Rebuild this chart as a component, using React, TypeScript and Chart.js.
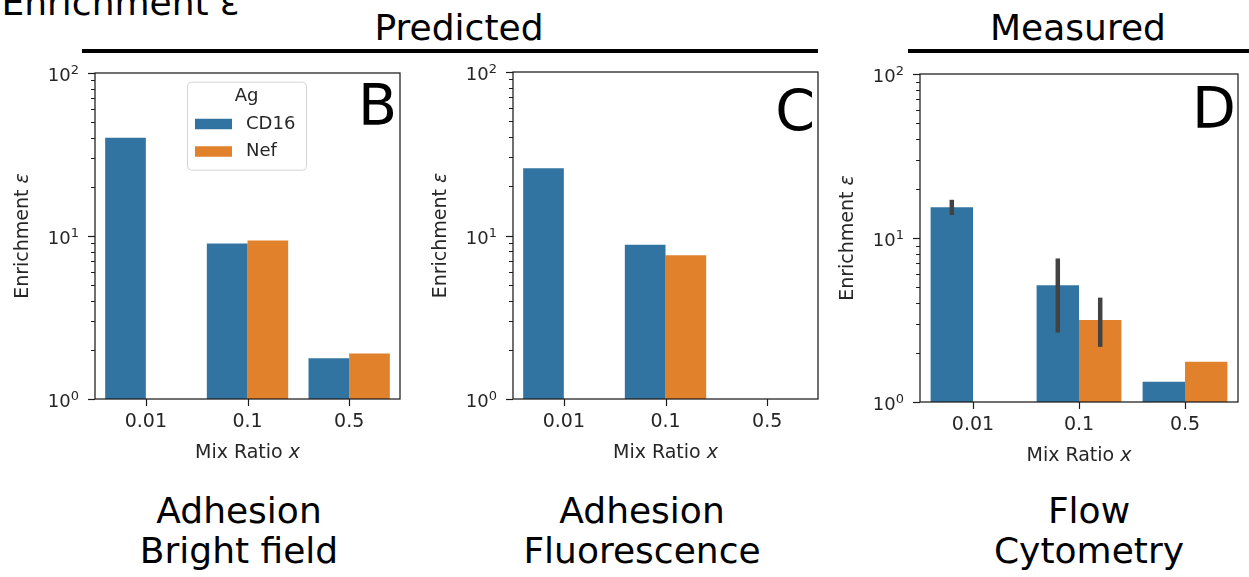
import React, { useEffect, useRef } from 'react';
import { Chart, registerables } from 'chart.js';

Chart.register(...registerables);

// ---------- data ----------
const categories = ['0.01', '0.1', '0.5'];
const seriesLabels = ['CD16', 'Nef'];
const seriesColors = ['#3274a1', '#e1812c'];

const yMajorTicks = [1, 10, 100];
const yMajorBase = '10';
const yMajorExponents = ['0', '1', '2'];
const yMinorTicks = [2, 3, 4, 5, 6, 7, 8, 9, 20, 30, 40, 50, 60, 70, 80, 90];

// B: Adhesion, bright field (predicted)
const brightCD16 = [40, 9.0, 1.78];
const brightNef = [null, 9.4, 1.9];
// C: Adhesion, fluorescence (predicted)
const fluorCD16 = [25.8, 8.77, null];
const fluorNef = [null, 7.58, null];
// D: Flow cytometry (measured)
const flowCD16 = [15.4, 5.15, 1.33];
const flowNef = [null, 3.16, 1.76];
const flowCD16Low = [13.8, 2.65, null];
const flowCD16High = [17.1, 7.5, null];
const flowNefLow = [null, 2.17, null];
const flowNefHigh = [null, 4.33, null];

const xTitleText = 'Mix Ratio ';
const xTitleVar = 'x';
const yTitleText = 'Enrichment ';
const yTitleVar = 'ε';
const legendTitle = 'Ag';

const FONT = "'DejaVu Sans', sans-serif";
const INK = '#1c1c1c';
const LABEL = '#262626';

type PanelProps = {
  left: number;
  top: number;
  width: number;
  height: number;
  yWidth: number;
  padTop: number;
  padRight: number;
  xHeight: number;
  values: (number | null)[][];
  errLow?: (number | null)[][];
  errHigh?: (number | null)[][];
  letter: string;
  letterX: number;
  letterY: number;
  legend?: boolean;
};

function Panel(p: PanelProps) {
  const ref = useRef<HTMLCanvasElement>(null);
  useEffect(() => {
    const canvas = ref.current!;
    const decor = {
      id: 'decor',
      afterDatasetsDraw(chart: any) {
        const { ctx, chartArea: ca, scales } = chart;
        const xs = scales.x;
        const ys = scales.y;
        ctx.save();
        // error bars
        if (p.errLow && p.errHigh) {
          ctx.strokeStyle = '#424242';
          ctx.lineWidth = 4.5;
          ctx.lineCap = 'butt';
          p.errLow.forEach((lows, i) => {
            const meta = chart.getDatasetMeta(i);
            lows.forEach((lo, j) => {
              const hi = p.errHigh![i][j];
              if (lo == null || hi == null) return;
              const bx = meta.data[j].x;
              ctx.beginPath();
              ctx.moveTo(bx, ys.getPixelForValue(lo));
              ctx.lineTo(bx, ys.getPixelForValue(hi));
              ctx.stroke();
            });
          });
        }
        // frame
        ctx.strokeStyle = INK;
        ctx.lineWidth = 1.25;
        ctx.strokeRect(ca.left, ca.top, ca.right - ca.left, ca.bottom - ca.top);
        // y ticks + labels
        ctx.lineWidth = 1.2;
        yMajorTicks.forEach((v, k) => {
          const ty = ys.getPixelForValue(v);
          const py = Math.round(ty) + 0.5;
          ctx.beginPath();
          ctx.moveTo(ca.left - 7, py);
          ctx.lineTo(ca.left, py);
          ctx.stroke();
          ctx.fillStyle = LABEL;
          ctx.textAlign = 'right';
          ctx.textBaseline = 'alphabetic';
          ctx.font = `13px ${FONT}`;
          const rx = ca.left - 16;
          const ew = ctx.measureText(yMajorExponents[k]).width;
          ctx.fillText(yMajorExponents[k], rx, ty + 1);
          ctx.font = `18px ${FONT}`;
          ctx.fillText(yMajorBase, rx - ew, ty + 8);
        });
        ctx.lineWidth = 1;
        yMinorTicks.forEach((v) => {
          const py = Math.round(ys.getPixelForValue(v)) + 0.5;
          ctx.beginPath();
          ctx.moveTo(ca.left - 4, py);
          ctx.lineTo(ca.left, py);
          ctx.stroke();
        });
        // x ticks
        ctx.lineWidth = 1.2;
        categories.forEach((_, i) => {
          const px = Math.round(xs.getPixelForValue(i)) + 0.5;
          ctx.beginPath();
          ctx.moveTo(px, ca.bottom);
          ctx.lineTo(px, ca.bottom + 7);
          ctx.stroke();
        });
        // axis titles
        ctx.fillStyle = LABEL;
        ctx.textBaseline = 'middle';
        ctx.textAlign = 'left';
        const normal = `19px ${FONT}`;
        const italic = `italic 19px ${FONT}`;
        const drawMixed = (a: string, b: string, cx: number, cy: number) => {
          ctx.font = normal;
          const w1 = ctx.measureText(a).width;
          ctx.font = italic;
          const w2 = ctx.measureText(b).width;
          const sx = cx - (w1 + w2) / 2;
          ctx.font = normal;
          ctx.fillText(a, sx, cy);
          ctx.font = italic;
          ctx.fillText(b, sx + w1, cy);
        };
        drawMixed(xTitleText, xTitleVar, (ca.left + ca.right) / 2, ca.bottom + 54.5);
        ctx.save();
        ctx.translate(ca.left - 72, (ca.top + ca.bottom) / 2);
        ctx.rotate(-Math.PI / 2);
        drawMixed(yTitleText, yTitleVar, 0, 0);
        ctx.restore();
        // panel letter
        ctx.fillStyle = '#000';
        ctx.font = `57px ${FONT}`;
        ctx.textAlign = 'right';
        ctx.textBaseline = 'alphabetic';
        ctx.fillText(p.letter, p.letterX, p.letterY);
        // legend
        if (p.legend) {
          const bx = ca.left + 92;
          const by = ca.top + 8.7;
          const bw = 119;
          const bh = 88;
          ctx.beginPath();
          ctx.roundRect(bx + 0.5, by + 0.5, bw, bh, 4);
          ctx.fillStyle = 'rgba(255,255,255,0.8)';
          ctx.fill();
          ctx.strokeStyle = '#d4d4d4';
          ctx.lineWidth = 1;
          ctx.stroke();
          ctx.fillStyle = LABEL;
          ctx.font = `18px ${FONT}`;
          ctx.textAlign = 'center';
          ctx.textBaseline = 'middle';
          ctx.fillText(legendTitle, bx + bw / 2, ca.top + 23.7);
          const rows = [ca.top + 51, ca.top + 78.5];
          seriesLabels.forEach((lab, i) => {
            ctx.fillStyle = seriesColors[i];
            ctx.fillRect(ca.left + 100, rows[i] - 5.25, 37, 10.5);
            ctx.fillStyle = LABEL;
            ctx.textAlign = 'left';
            ctx.fillText(lab, ca.left + 151, rows[i]);
          });
        }
        ctx.restore();
      },
    };

    const chart = new Chart(canvas, {
      type: 'bar',
      data: {
        labels: categories,
        datasets: p.values.map((vals, i) => ({
          label: seriesLabels[i],
          data: vals as any,
          backgroundColor: seriesColors[i],
          borderWidth: 0,
          categoryPercentage: 0.8,
          barPercentage: 1.0,
        })),
      },
      options: {
        responsive: false,
        animation: false,
        devicePixelRatio: 1,
        layout: { padding: { top: p.padTop, right: p.padRight, left: 0, bottom: 0 } },
        plugins: {
          legend: { display: false },
          title: { display: false },
          tooltip: { enabled: false },
        },
        scales: {
          x: {
            type: 'category',
            offset: true,
            grid: { display: false, drawTicks: false },
            border: { display: false },
            ticks: {
              color: LABEL,
              font: { family: FONT, size: 19 },
              padding: 12,
              maxRotation: 0,
            },
            afterFit: (s: any) => {
              s.height = p.xHeight;
            },
          },
          y: {
            type: 'logarithmic',
            min: 1,
            max: 100,
            grid: { display: false, drawTicks: false },
            border: { display: false },
            afterBuildTicks: (s: any) => {
              s.ticks = yMajorTicks.map((v) => ({ value: v, major: true }));
            },
            ticks: { display: false },
            afterFit: (s: any) => {
              s.width = p.yWidth;
            },
          },
        },
      },
      plugins: [decor],
    } as any);
    return () => chart.destroy();
  }, []);
  return (
    <canvas
      ref={ref}
      width={p.width}
      height={p.height}
      style={{ position: 'absolute', left: p.left, top: p.top, width: p.width, height: p.height, display: 'block' }}
    />
  );
}

const BIG = 36;
function Label({ text, cx, x, baseline }: { text: string; cx?: number; x?: number; baseline: number }) {
  const top = baseline - 0.846 * BIG;
  const style: React.CSSProperties = {
    position: 'absolute',
    top,
    fontSize: BIG,
    lineHeight: `${BIG}px`,
    whiteSpace: 'nowrap',
    color: '#000',
    fontFamily: FONT,
  };
  if (cx != null) {
    style.left = cx - 300;
    style.width = 600;
    style.textAlign = 'center';
  } else {
    style.left = x;
  }
  return <div style={style}>{text}</div>;
}

export default function App() {
  return (
    <div
      style={{
        position: 'absolute',
        left: 0,
        top: 0,
        width: 1249,
        height: 577,
        background: '#fff',
        overflow: 'hidden',
        fontFamily: FONT,
      }}
    >
      <Label text="Enrichment ε" x={1.5} baseline={15} />
      <Label text="Predicted" cx={459} baseline={40} />
      <Label text="Measured" cx={1078} baseline={40} />
      <div style={{ position: 'absolute', left: 82, top: 49, width: 736, height: 4, background: '#000' }} />
      <div style={{ position: 'absolute', left: 908, top: 49, width: 341, height: 4, background: '#000' }} />

      <Panel
        left={0}
        top={58}
        width={420}
        height={412}
        yWidth={95}
        padTop={15}
        padRight={20}
        xHeight={71}
        values={[brightCD16, brightNef]}
        letter="B"
        letterX={397}
        letterY={67}
        legend
      />
      <Panel
        left={420}
        top={58}
        width={420}
        height={412}
        yWidth={93}
        padTop={14}
        padRight={22}
        xHeight={71}
        values={[fluorCD16, fluorNef]}
        letter="C"
        letterX={395}
        letterY={73}
      />
      <Panel
        left={830}
        top={58}
        width={419}
        height={412}
        yWidth={90}
        padTop={16}
        padRight={11}
        xHeight={68}
        values={[flowCD16, flowNef]}
        errLow={[flowCD16Low, flowNefLow]}
        errHigh={[flowCD16High, flowNefHigh]}
        letter="D"
        letterX={406}
        letterY={70}
      />

      <Label text="Adhesion" cx={239} baseline={523} />
      <Label text="Bright field" cx={239} baseline={563} />
      <Label text="Adhesion" cx={642} baseline={523} />
      <Label text="Fluorescence" cx={642} baseline={563} />
      <Label text="Flow" cx={1089} baseline={523} />
      <Label text="Cytometry" cx={1089} baseline={563} />
    </div>
  );
}
